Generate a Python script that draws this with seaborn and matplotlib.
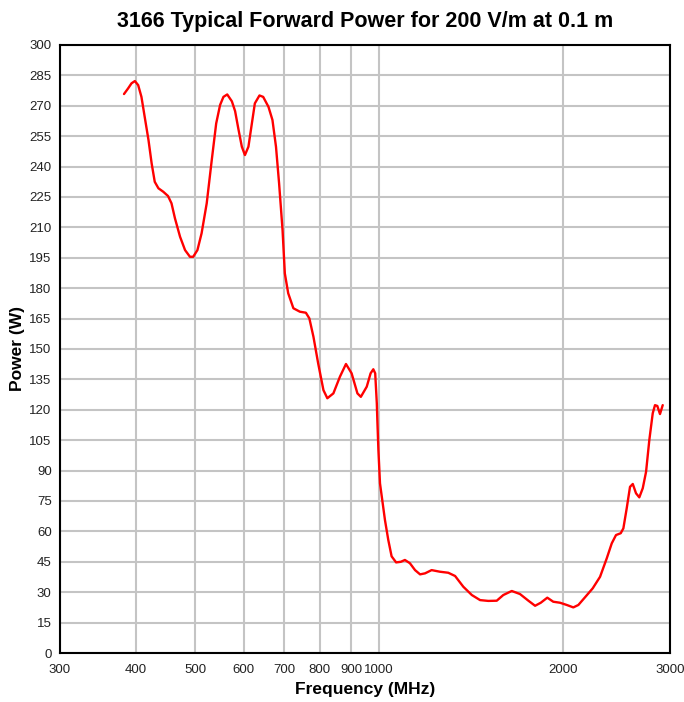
import numpy as np
import pandas as pd
import matplotlib
matplotlib.use("Agg")
import matplotlib.pyplot as plt
import seaborn as sns

# values
freq_mhz = [382, 388, 393, 398, 403, 408, 413, 419, 424, 429, 435, 443, 451, 457,
            463, 472, 481, 490, 496, 504, 512, 522, 532, 541, 549, 556, 564, 574,
            581, 588, 596, 603, 611, 619, 626, 637, 646, 659, 669, 678, 686, 695,
            701, 710, 724, 742, 759, 769, 781, 795, 811, 823, 842, 863, 883, 902,
            922, 934, 955, 969, 979, 986, 992, 994, 998, 1004, 1023, 1036, 1049,
            1067, 1086, 1103, 1124, 1146, 1168, 1190, 1220, 1259, 1299, 1333, 1375,
            1420, 1465, 1511, 1560, 1599, 1651, 1703, 1758, 1803, 1842, 1888, 1931,
            1981, 2032, 2083, 2123, 2177, 2241, 2304, 2363, 2408, 2447, 2491, 2516,
            2548, 2580, 2607, 2639, 2672, 2707, 2741, 2775, 2811, 2835, 2860, 2889,
            2919]
power_w = [275.8, 278.6, 281.1, 282.2, 280.2, 274.4, 264.6, 253.1, 241.6, 232.5,
           229.3, 227.6, 225.5, 221.9, 214.5, 205.4, 198.8, 195.5, 195.5, 198.8,
           207.1, 221.9, 243.2, 261.3, 270.4, 274.4, 275.6, 272.2, 267.4, 258.9,
           249.8, 245.7, 249.8, 261.3, 271.2, 275.1, 274.4, 269.5, 263.0, 249.8,
           231.7, 208.7, 187.3, 177.5, 170.1, 168.4, 167.9, 165.1, 156.0, 142.9,
           129.7, 125.7, 128.1, 136.3, 142.6, 138.0, 128.1, 126.4, 131.4, 138.0,
           140.0, 138.0, 123.2, 114.9, 100.1, 83.7, 65.6, 55.7, 47.7, 44.7, 45.0,
           45.9, 44.3, 40.9, 38.8, 39.3, 40.9, 40.1, 39.6, 38.0, 32.7, 28.6, 26.1,
           25.7, 25.8, 28.6, 30.6, 29.1, 25.8, 23.3, 24.8, 27.3, 25.3, 24.8, 23.7,
           22.5, 23.7, 27.5, 31.9, 37.6, 46.7, 54.1, 58.2, 59.1, 61.5, 71.4, 82.0,
           83.4, 78.8, 76.8, 81.3, 89.4, 105.1, 118.3, 122.3, 121.9, 117.9, 122.3]

x_ticks = [300, 400, 500, 600, 700, 800, 900, 1000, 2000, 3000]
y_ticks = list(range(0, 301, 15))

df = pd.DataFrame({"Frequency (MHz)": freq_mhz, "Power (W)": power_w})

sns.set_style("whitegrid", {"grid.color": "#c4c4c4", "axes.edgecolor": "black"})
plt.rcParams["font.family"] = ["Liberation Sans", "DejaVu Sans"]

fig = plt.figure(figsize=(6.84, 7.02), dpi=100)
ax = fig.add_axes([0.0877, 0.0698, 0.8918, 0.8661])

sns.lineplot(data=df, x="Frequency (MHz)", y="Power (W)", ax=ax, color="#ff0000",
             linewidth=1.7, sort=False, estimator=None)

ax.set_xscale("log")
ax.set_xlim(300, 3000)
ax.set_ylim(0, 300)
ax.set_xticks(x_ticks)
ax.set_xticklabels([str(t) for t in x_ticks])
ax.xaxis.set_minor_locator(matplotlib.ticker.NullLocator())
ax.set_yticks(y_ticks)
ax.grid(True, color="#c4c4c4", linewidth=1.5)
ax.tick_params(axis="both", length=0, labelsize=9.5, colors="#222222")
ax.tick_params(axis="x", pad=8)
ax.tick_params(axis="y", pad=6)

for s in ax.spines.values():
    s.set_color("black")
    s.set_linewidth(1.5)

ax.set_xlabel("Frequency (MHz)", fontsize=12.5, fontweight="bold", color="black",
              labelpad=4)
ax.set_ylabel("Power (W)", fontsize=12.5, fontweight="bold", color="black",
              labelpad=3)
ax.set_title("3166 Typical Forward Power for 200 V/m at 0.1 m", fontsize=15.5,
             fontweight="bold", color="black", pad=13)

fig.savefig("out.png", dpi=100)
